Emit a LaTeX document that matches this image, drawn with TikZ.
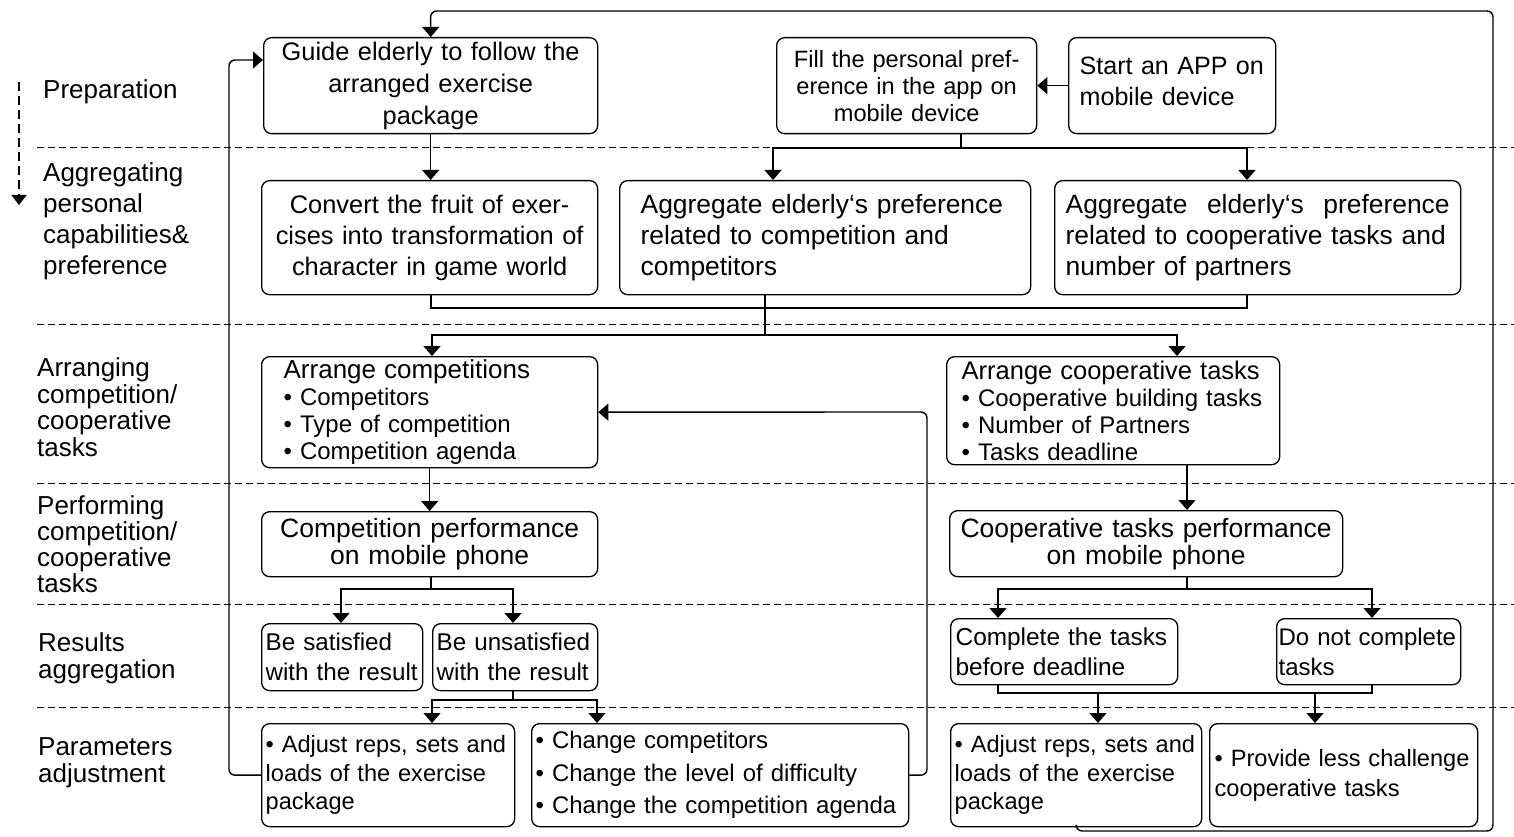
\documentclass[tikz,border=0pt]{standalone}
\usepackage{fontspec}
\setmainfont{Liberation Sans}
\usetikzlibrary{arrows.meta, positioning}
\newcommand\fsz[2]{\fontsize{#1}{#2}\selectfont}
\hyphenpenalty=10000
\exhyphenpenalty=10000

\begin{document}
\begin{tikzpicture}[x=1pt, y=-1pt,
box/.style={draw, rounded corners=8pt, line width=1.3pt, anchor=north west, inner ysep=0pt},
sz/.style n args={3}{text width=#1pt, minimum height=#2pt, inner xsep=#3pt},
lbl/.style={anchor=west, align=left, inner sep=0pt},
conn/.style={line width=1.4pt},
arr/.style={conn, -{Triangle[width=17pt,length=10pt]}},
lanesep/.style={line width=1pt, dash pattern=on 7pt off 4pt}]
 \useasboundingbox (0,0) rectangle (1514,837);

 % lanes
 \foreach \y in {148,324,483,604,707}
 \draw[lanesep] (37,\y) -- (1514,\y);
 \draw[line width=1.5pt, dash pattern=on 9pt off 5pt, -{Triangle[width=15pt,length=10pt]}] (19,82) -- (19,205);

 \node[lbl, font=\fsz{26}{31}] (lprep) at (43,92) {Preparation};
 \node[lbl, font=\fsz{26}{31}] (lagg) at (43,221) {Aggregating\\personal\\capabilities\&\\preference};
 \node[lbl, font=\fsz{26}{26.5}] (larr) at (37,407) {Arranging\\competition/\\cooperative\\tasks};
 \node[lbl, font=\fsz{26}{26}] (lperf) at (37,544) {Performing\\competition/\\cooperative\\tasks};
 \node[lbl, font=\fsz{26}{27}] (lres) at (38,658) {Results\\aggregation};
 \node[lbl, font=\fsz{26}{27}] (lpar) at (38,763) {Parameters\\adjustment};

 % boxes
 \node[box, sz={322}{96}{6}, align=center, font=\fsz{25.4}{32}] (guide) at (263,37) {Guide elderly to follow the\\arranged exercise\\package};
 \node[box, sz={248}{96}{6}, align=center, font=\fsz{23.6}{27}] (fill) at (776,37) {Fill the personal pref-\\erence in the app on\\mobile device};
 \node[box, sz={185}{96}{11}, align=left, font=\fsz{25.1}{31}] (start) at (1068,37) {Start an APP on\\mobile device\\[-23pt]\mbox{}};

 \node[box, sz={324}{114}{6}, align=center, font=\fsz{25.4}{31}] (convert) at (261,180) {Convert the fruit of exer-\\cises into transformation of\\character in game world};
 \node[box, sz={369}{114}{21}, align=left, font=\fsz{26.4}{31}] (aggcomp) at (619,180) {Aggregate elderly‘s preference\\related to competition and\\competitors};
 \node[box, sz={384}{114}{11}, align=left, font=\fsz{26.4}{31}] (aggcoop) at (1054,180) {Aggregate\hfill elderly‘s\hfill preference\\related to cooperative tasks and\\number of partners};

 \node[box, sz={292}{111}{22}, align=left, font=\fsz{24}{27}] (arrcomp) at (261,356) {{\fsz{26}{27}Arrange competitions}\\• Competitors\\• Type of competition\\• Competition agenda};
 \node[box, sz={303}{108}{15}, align=left, font=\fsz{24}{27}] (arrcoop) at (946,356) {{\fsz{25.5}{27}Arrange cooperative tasks}\\• Cooperative building tasks\\• Number of Partners\\• Tasks deadline};

 \node[box, sz={324}{65}{6}, align=center, font=\fsz{26.5}{27}] (perfcomp) at (261,511) {Competition performance\\on mobile phone};
 \node[box, sz={381}{66}{6}, align=center, font=\fsz{26.5}{27}] (perfcoop) at (949,510) {Cooperative tasks performance\\on mobile phone};

 \node[box, sz={153}{67}{4}, align=left, font=\fsz{24.2}{30}] (sat) at (261,623) {Be satisfied\\with the result};
 \node[box, sz={157}{67}{4}, align=left, font=\fsz{24.2}{30}] (unsat) at (432,623) {Be unsatisfied\\with the result};
 \node[box, sz={217}{66}{5}, align=left, font=\fsz{24.4}{30}] (complete) at (950,618) {Complete the tasks\\before deadline};
 \node[box, sz={180}{66}{2}, align=left, font=\fsz{24}{30}] (dontc) at (1276,618) {Do not complete\\tasks};

 \node[box, sz={245}{103}{4}, align=left, font=\fsz{23.6}{28.5}] (adj1) at (261,723) {• Adjust reps, sets and\\loads of the exercise\\package};
 \node[box, sz={369}{103}{4}, align=left, font=\fsz{24}{32.5}] (change) at (531,723) {• Change competitors\\• Change the level of difficulty\\• Change the competition agenda};
 \node[box, sz={243}{103}{4}, align=left, font=\fsz{23.6}{28.5}] (adj2) at (950,723) {• Adjust reps, sets and\\loads of the exercise\\package};
 \node[box, sz={258}{103}{5}, align=left, font=\fsz{23.6}{30}] (provide) at (1209,723) {• Provide less challenge\\cooperative tasks};

 % preparation
 \draw[arr] (start.west) -- (fill.east);
 \draw[arr] (guide.south) -- (guide.south |- convert.north);

 \coordinate (b1) at (961,148);
 \coordinate (b1l) at (773,148);
 \coordinate (b1r) at (1247,148);
 \draw[conn] (fill.south -| b1) -- (b1);
 \draw[arr] (b1) -- (b1l) -- (b1l |- aggcomp.north);
 \draw[arr] (b1) -- (b1r) -- (b1r |- aggcoop.north);

 % aggregation -> arranging
 \coordinate (b2l) at (431,308);
 \coordinate (b2m) at (765,308);
 \coordinate (b2r) at (1247,308);
 \draw[conn] (b2l |- convert.south) -- (b2l) -- (b2r) -- (b2r |- aggcoop.south);
 \draw[conn] (b2m |- aggcomp.south) -- (b2m);

 \coordinate (b3) at (765,335);
 \coordinate (b3l) at (432,335);
 \coordinate (b3r) at (1177,335);
 \draw[conn] (b2m) -- (b3);
 \draw[arr] (b3) -- (b3l) -- (b3l |- arrcomp.north);
 \draw[arr] (b3) -- (b3r) -- (b3r |- arrcoop.north);

 % performing
 \draw[arr] (arrcomp.south) -- (perfcomp.north);
 \coordinate (v1) at (1187,483);
 \draw[arr] (v1 |- arrcoop.south) -- (v1 |- perfcoop.north);

 % results
 \coordinate (b5) at (431,589);
 \coordinate (b5l) at (341,589);
 \coordinate (b5r) at (513,589);
 \draw[conn] (b5 |- perfcomp.south) -- (b5);
 \draw[arr] (b5) -- (b5l) -- (b5l |- sat.north);
 \draw[arr] (b5) -- (b5r) -- (b5r |- unsat.north);

 \coordinate (b6) at (1187,589);
 \coordinate (b6l) at (998,589);
 \coordinate (b6r) at (1372,589);
 \draw[conn] (b6 |- perfcoop.south) -- (b6);
 \draw[arr] (b6) -- (b6l) -- (b6l |- complete.north);
 \draw[arr] (b6) -- (b6r) -- (b6r |- dontc.north);

 % adjustment
 \coordinate (b7) at (513,700);
 \coordinate (b7l) at (432,700);
 \coordinate (b7r) at (597,700);
 \draw[conn] (b7 |- unsat.south) -- (b7);
 \draw[arr] (b7) -- (b7l) -- (b7l |- adj1.north);
 \draw[arr] (b7) -- (b7r) -- (b7r |- change.north);

 \coordinate (b8l) at (998,693);
 \coordinate (b8r) at (1372,693);
 \coordinate (b8a) at (1098,693);
 \coordinate (b8b) at (1315,693);
 \draw[conn] (b8l |- complete.south) -- (b8l) -- (b8r) -- (b8r |- dontc.south);
 \draw[arr] (b8a) -- (b8a |- adj2.north);
 \draw[arr] (b8b) -- (b8b |- provide.north);

 % feedback loops
 \coordinate (fb) at (927,412);
 \draw[arr, rounded corners=6pt] (change.east) -| (fb) -- (arrcomp.east);

 \coordinate (lp) at (229,60);
 \draw[arr, rounded corners=6pt] (adj1.west) -| (lp) -- (lp -| guide.west);

 \coordinate (rp1) at (1493,831);
 \coordinate (rp2) at (1493,11);
 \draw[arr, rounded corners=6pt] (adj2.south) |- (rp1) -- (rp2) -| (guide.north);

\end{tikzpicture}
\end{document}
